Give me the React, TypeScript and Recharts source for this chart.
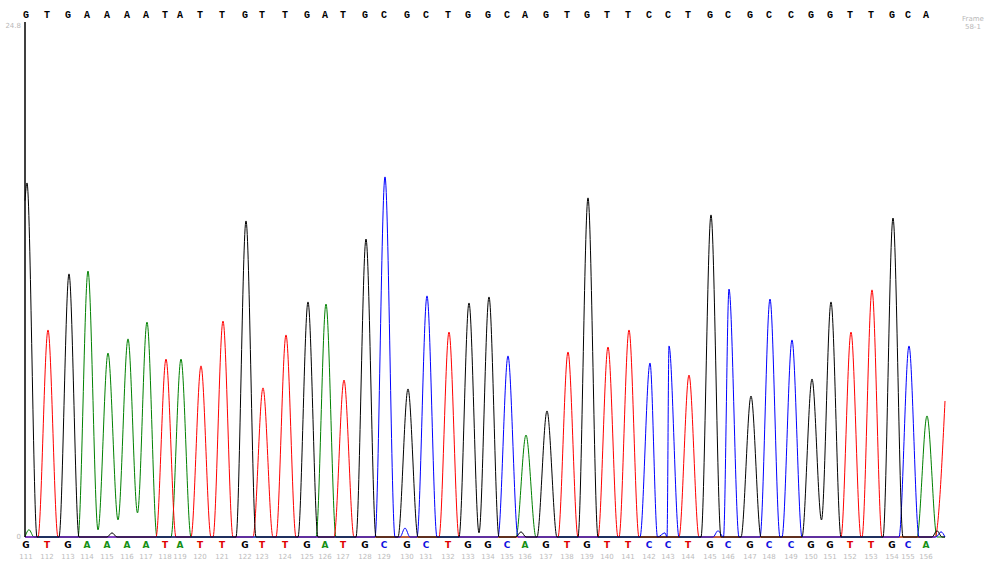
import { Line, LineChart, XAxis, YAxis } from 'recharts';

// called bases, left to right (first base number 111)
const bases = [
  'G', 'T', 'G', 'A', 'A', 'A', 'A', 'T', 'A', 'T', 'T', 'G', 'T', 'T', 'G', 'A',
  'T', 'G', 'C', 'G', 'C', 'T', 'G', 'G', 'C', 'A', 'G', 'T', 'G', 'T', 'T', 'C',
  'C', 'T', 'G', 'C', 'G', 'C', 'C', 'G', 'G', 'T', 'T', 'G', 'C', 'A',
];
const firstBaseNumber = 111;

// scan position of each peak
const peakScans = [
  2, 23, 44, 63, 83, 103, 122, 141, 156, 176, 198, 221, 238, 261, 283, 301,
  319, 341, 360, 383, 402, 424, 444, 464, 483, 501, 522, 543, 563, 583, 604, 625,
  644, 664, 686, 704, 726, 745, 767, 787, 806, 826, 847, 868, 884, 902,
];

// signal height at each peak
const peakHeights = [
  17.05, 9.97, 12.67, 12.81, 8.86, 9.54, 10.35, 8.57, 8.57, 8.24, 10.4, 15.22, 7.18, 9.73, 11.32, 11.22,
  7.56, 14.35, 17.34, 7.13, 11.61, 9.87, 11.27, 11.56, 8.72, 4.91, 6.07, 8.91, 16.33, 9.15, 9.97, 8.38,
  9.2, 7.8, 15.51, 11.94, 6.79, 11.46, 9.49, 7.61, 11.32, 9.87, 11.9, 15.36, 9.2, 5.83,
];

// trough level between two neighbouring peaks of one dye, keyed by the later base number
const valleys: Record<number, number> = { 115: 0.34, 116: 0.82, 117: 1.16, 134: 0.2, 151: 0.82 };

// small bumps near the baseline: [base, scan, height]
const minorPeaks: [string, number, number][] = [
  ['A', 4, 0.35],
  ['G', 87, 0.2],
  ['C', 380, 0.43],
  ['G', 496, 0.25],
  ['C', 693, 0.3],
  ['C', 640, 0.2],
  ['G', 912, 0.3],
  ['C', 916, 0.25],
];

// trace values at the window edges: [base, scan, value]
const edgeValues: [string, number, number][] = [
  ['G', 0, 16.2],
  ['T', 920, 6.55],
];

const PEAK_FOOT = 10;
const MINOR_FOOT = 5;
const SCAN_MAX = 920;
const SIGNAL_MAX = 24.8;

const traceColor: Record<string, string> = { G: '#000000', T: '#ff0000', A: '#008000', C: '#0000ff' };
const labelColor: Record<string, string> = { G: '#000000', T: '#e00000', A: '#169016', C: '#1010e0' };

interface TracePoint {
  scan: number;
  v: number;
}

function buildTrace(dye: string): TracePoint[] {
  const events: { scan: number; h: number; foot: number; num?: number }[] = [];
  bases.forEach((b, i) => {
    if (b === dye) events.push({ scan: peakScans[i], h: peakHeights[i], foot: PEAK_FOOT, num: firstBaseNumber + i });
  });
  minorPeaks.forEach(([b, scan, h]) => {
    if (b === dye) events.push({ scan, h, foot: MINOR_FOOT });
  });
  events.sort((a, b) => a.scan - b.scan);

  const start = edgeValues.find(([b, s]) => b === dye && s === 0);
  const end = edgeValues.find(([b, s]) => b === dye && s === SCAN_MAX);
  const pts: TracePoint[] = [{ scan: 0, v: start ? start[2] : 0 }];

  events.forEach((e, i) => {
    const prev = events[i - 1];
    if (prev && (prev.scan + prev.foot >= e.scan - e.foot || (e.num && valleys[e.num] !== undefined))) {
      pts.push({ scan: (prev.scan + e.scan) / 2, v: (e.num && valleys[e.num]) || 0 });
    } else if (e.scan - e.foot > 0 && !(i === 0 && start)) {
      pts.push({ scan: e.scan - e.foot, v: 0 });
    }
    if (e.scan > 0) pts.push({ scan: e.scan, v: e.h });
    const next = events[i + 1];
    const joined = next && (e.scan + e.foot >= next.scan - next.foot || (next.num && valleys[next.num] !== undefined));
    if (!joined && e.scan + e.foot < SCAN_MAX) pts.push({ scan: e.scan + e.foot, v: 0 });
  });

  if (end) {
    pts.push({ scan: end[1] - PEAK_FOOT, v: 0 });
    pts.push({ scan: end[1], v: end[2] });
  } else {
    pts.push({ scan: SCAN_MAX, v: 0 });
  }
  return pts.filter((p, i, arr) => i === 0 || p.scan > arr[i - 1].scan);
}

const dyeOrder = ['A', 'T', 'C', 'G'];

// bottom axis tick: coloured base call + base number, plus the plain sequence row above the plot
function BaseTick({ x, y, payload }: any) {
  const i = peakScans.indexOf(payload.value);
  if (i < 0) return null;
  return (
    <g>
      <text x={x - 1} y={18} textAnchor="middle" fontSize={10} fontWeight="bold" fontFamily="Liberation Mono" fill="#000">
        {bases[i]}
      </text>
      <text x={x - 1} y={y + 11} textAnchor="middle" fontSize={9} fontWeight="bold" fontFamily="DejaVu Sans" fill={labelColor[bases[i]]}>
        {bases[i]}
      </text>
      <text x={x - 1} y={y + 22} textAnchor="middle" fontSize={7} fontFamily="DejaVu Sans" fill="#bcbcbc">
        {firstBaseNumber + i}
      </text>
    </g>
  );
}

function LeftTick({ x, y, payload }: any) {
  return (
    <text x={x - 2} y={y + (payload.value === 0 ? 2 : 6)} textAnchor="end" fontSize={7} fontFamily="DejaVu Sans" fill="#b8b8b8">
      {payload.value}
    </text>
  );
}

export default function App(): JSX.Element {
  return (
    <div style={{ position: 'absolute', left: 0, top: 0, width: 988, height: 561, background: '#fff' }}>
      <LineChart width={988} height={561} margin={{ top: 22, right: 43, bottom: 0, left: 0 }}>
        <XAxis
          type="number"
          dataKey="scan"
          domain={[0, SCAN_MAX]}
          ticks={peakScans}
          interval={0}
          height={24}
          axisLine={false}
          tickLine={false}
          tickSize={0}
          tickMargin={0}
          tick={<BaseTick />}
        />
        <YAxis
          type="number"
          domain={[0, SIGNAL_MAX]}
          ticks={[0, SIGNAL_MAX]}
          width={25}
          axisLine={{ stroke: '#000', strokeWidth: 1.5 }}
          tickLine={false}
          tickSize={0}
          tick={<LeftTick />}
        />
        {dyeOrder.map((dye) => (
          <Line
            key={dye}
            data={buildTrace(dye)}
            dataKey="v"
            type="monotone"
            stroke={traceColor[dye]}
            strokeWidth={1}
            dot={false}
            activeDot={false}
            isAnimationActive={false}
          />
        ))}
      </LineChart>
      <div style={{ position: 'absolute', left: 962, top: 15, fontSize: 7, lineHeight: '8px', color: '#b8b8b8', fontFamily: 'DejaVu Sans', textAlign: 'center' }}>
        Frame
        <br />
        58-1
      </div>
    </div>
  );
}
